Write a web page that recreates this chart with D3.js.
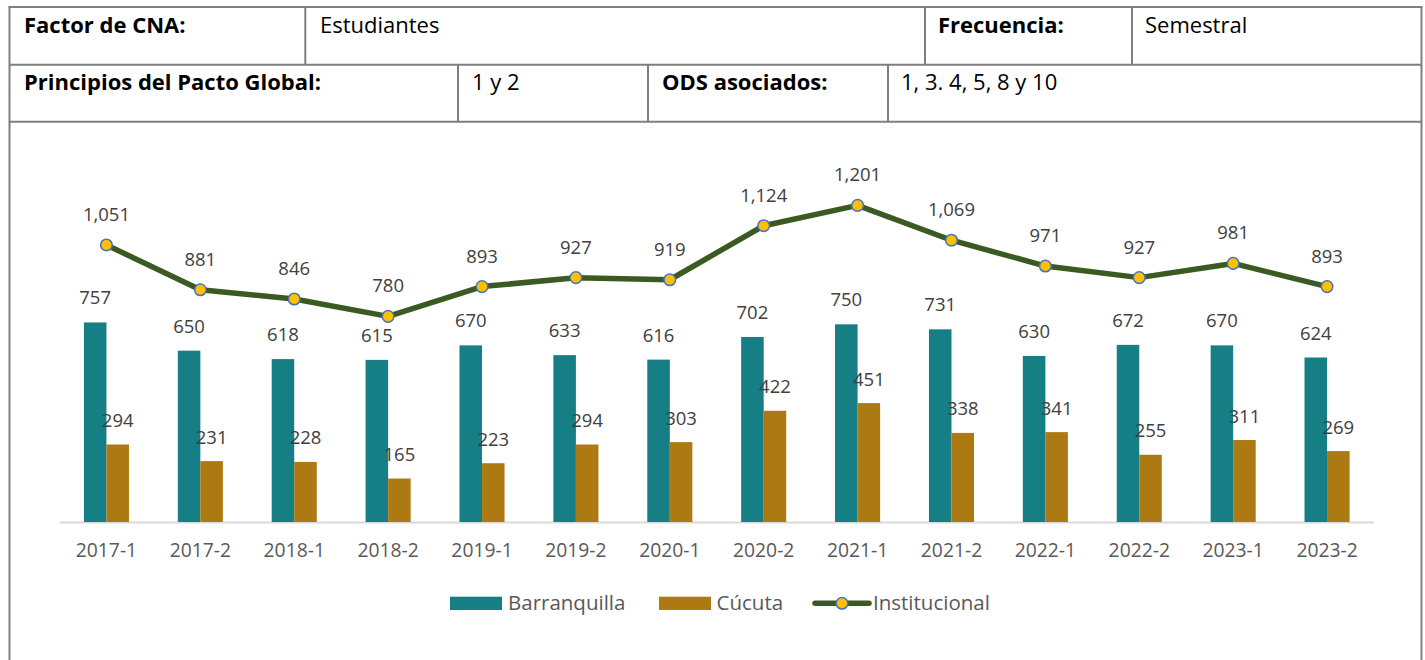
<!DOCTYPE html>
<html>
<head>
<meta charset="utf-8">
<script src="https://cdn.jsdelivr.net/npm/d3@7"></script>
<style>
  html, body { margin: 0; padding: 0; background: #fff; }
  svg { display: block; }
  text { font-family: "Open Sans", "Noto Sans", sans-serif; }
</style>
</head>
<body>
<svg id="chart" width="1425" height="660"></svg>
<script>
// ---- Data ----
const categories = ["2017-1","2017-2","2018-1","2018-2","2019-1","2019-2","2020-1","2020-2","2021-1","2021-2","2022-1","2022-2","2023-1","2023-2"];
const barranquilla = [757,650,618,615,670,633,616,702,750,731,630,672,670,624];
const cucuta = [294,231,228,165,223,294,303,422,451,338,341,255,311,269];
const institucional = [1051,881,846,780,893,927,919,1124,1201,1069,971,927,981,893];
const seriesNames = ["Barranquilla","Cúcuta","Institucional"];

// header table texts
const headerRow1 = ["Factor de CNA:", "Estudiantes", "Frecuencia:", "Semestral"];
const headerRow2 = ["Principios del Pacto Global:", "1 y 2", "ODS asociados:", "1, 3. 4, 5, 8 y 10"];

// ---- Styles / layout ----
const colB = "#167F86", colC = "#AD7912", colLine = "#3A5A22", colMarker = "#FFC000", colMarkerStroke = "#4472C4";
const borderCol = "#7F7F7F";

const svg = d3.select("#chart");
svg.append("rect").attr("width",1425).attr("height",660).attr("fill","#fff");

// ---- Header table ----
const tb = svg.append("g").attr("stroke", borderCol).attr("stroke-width", 2).attr("fill","none");
const L = 9.5, R = 1421.5, T = 7, Y1 = 64.8, Y2 = 121.7;
tb.append("line").attr("x1",L-1).attr("x2",R+1).attr("y1",T).attr("y2",T);
tb.append("line").attr("x1",L).attr("x2",R).attr("y1",Y1).attr("y2",Y1);
tb.append("line").attr("x1",L).attr("x2",R).attr("y1",Y2).attr("y2",Y2);
tb.append("line").attr("x1",L).attr("x2",L).attr("y1",T).attr("y2",661);
tb.append("line").attr("x1",R).attr("x2",R).attr("y1",T).attr("y2",661);
const row1X = [305.3, 925, 1132];
const row2X = [458, 648, 888];
row1X.forEach(x => tb.append("line").attr("x1",x).attr("x2",x).attr("y1",T).attr("y2",Y1));
row2X.forEach(x => tb.append("line").attr("x1",x).attr("x2",x).attr("y1",Y1).attr("y2",Y2));

const row1TextX = [24, 320, 938, 1145];
const row2TextX = [24, 472, 662, 901];
headerRow1.forEach((t,i) => svg.append("text").attr("x",row1TextX[i]).attr("y",33)
  .attr("font-size",22).attr("font-weight", i%2===0 ? 700 : 400).attr("fill","#000").text(t));
headerRow2.forEach((t,i) => svg.append("text").attr("x",row2TextX[i]).attr("y",90)
  .attr("font-size",22).attr("font-weight", i%2===0 ? 700 : 400).attr("fill","#000").text(t));

// ---- Chart ----
const baseY = 522;
const x0 = d3.scaleBand().domain(categories).range([59.5, 1374]).paddingInner(0.52).paddingOuter(0.26);
const x1 = d3.scaleBand().domain(["B","C"]).range([0, x0.bandwidth()]);
const y = d3.scaleLinear().domain([0, 1400]).range([baseY, baseY - 1400*0.2636]);

// axis line
svg.append("line").attr("x1",59.5).attr("x2",1374).attr("y1",baseY+0.5).attr("y2",baseY+0.5)
  .attr("stroke","#D9D9D9").attr("stroke-width",2);

// bars
const g = svg.append("g");
g.selectAll("rect.b").data(barranquilla).join("rect").attr("class","b")
  .attr("x",(d,i)=>x0(categories[i])+x1("B")).attr("width",x1.bandwidth())
  .attr("y",d=>y(d)).attr("height",d=>baseY-y(d)).attr("fill",colB);
g.selectAll("rect.c").data(cucuta).join("rect").attr("class","c")
  .attr("x",(d,i)=>x0(categories[i])+x1("C")).attr("width",x1.bandwidth())
  .attr("y",d=>y(d)).attr("height",d=>baseY-y(d)).attr("fill",colC);

// bar labels
const fmt = d3.format(",");
g.selectAll("text.lb").data(barranquilla).join("text").attr("class","lb")
  .attr("x",(d,i)=>x0(categories[i])+x1("B")+x1.bandwidth()/2).attr("y",d=>y(d)-18)
  .attr("text-anchor","middle").attr("font-size",18.5).attr("fill","#404040").text(d=>fmt(d));
g.selectAll("text.lc").data(cucuta).join("text").attr("class","lc")
  .attr("x",(d,i)=>x0(categories[i])+x1("C")+x1.bandwidth()/2).attr("y",d=>y(d)-17.5)
  .attr("text-anchor","middle").attr("font-size",18.5).attr("fill","#404040").text(d=>fmt(d));

// line
const cx = c => x0(c) + x0.bandwidth()/2;
const line = d3.line().x((d,i)=>cx(categories[i])).y(d=>y(d));
g.append("path").datum(institucional).attr("d",line).attr("fill","none")
  .attr("stroke",colLine).attr("stroke-width",5.5).attr("stroke-linejoin","round").attr("stroke-linecap","round");
g.selectAll("circle.m").data(institucional).join("circle").attr("class","m")
  .attr("cx",(d,i)=>cx(categories[i])).attr("cy",d=>y(d)).attr("r",5.8)
  .attr("fill",colMarker).attr("stroke",colMarkerStroke).attr("stroke-width",1.5);
g.selectAll("text.li").data(institucional).join("text").attr("class","li")
  .attr("x",(d,i)=>cx(categories[i])).attr("y",d=>y(d)-24)
  .attr("text-anchor","middle").attr("font-size",18.5).attr("fill","#404040").text(d=>fmt(d));

// x axis tick labels
const ax = svg.append("g").attr("transform",`translate(0,${baseY})`)
  .call(d3.axisBottom(x0).tickSize(0).tickPadding(21.5));
ax.select(".domain").remove();
ax.selectAll("text").attr("font-size",19.3).attr("fill","#595959")
  .attr("font-family","'Open Sans', 'Noto Sans', sans-serif");

// ---- Legend ----
const lg = svg.append("g");
const legY = 603.3;
lg.append("rect").attr("x",450).attr("y",596.7).attr("width",52).attr("height",13.3).attr("fill",colB);
lg.append("text").attr("x",508).attr("y",610).attr("font-size",20.5).attr("fill","#595959").text(seriesNames[0]);
lg.append("rect").attr("x",659).attr("y",596.7).attr("width",52).attr("height",13.3).attr("fill",colC);
lg.append("text").attr("x",716.5).attr("y",610).attr("font-size",20.5).attr("fill","#595959").text(seriesNames[1]);
lg.append("line").attr("x1",815).attr("x2",869).attr("y1",legY).attr("y2",legY)
  .attr("stroke",colLine).attr("stroke-width",5.5).attr("stroke-linecap","round");
lg.append("circle").attr("cx",842).attr("cy",legY).attr("r",5.8).attr("fill",colMarker)
  .attr("stroke",colMarkerStroke).attr("stroke-width",1.5);
lg.append("text").attr("x",873).attr("y",610).attr("font-size",20.5).attr("fill","#595959").text(seriesNames[2]);
</script>
</body>
</html>
